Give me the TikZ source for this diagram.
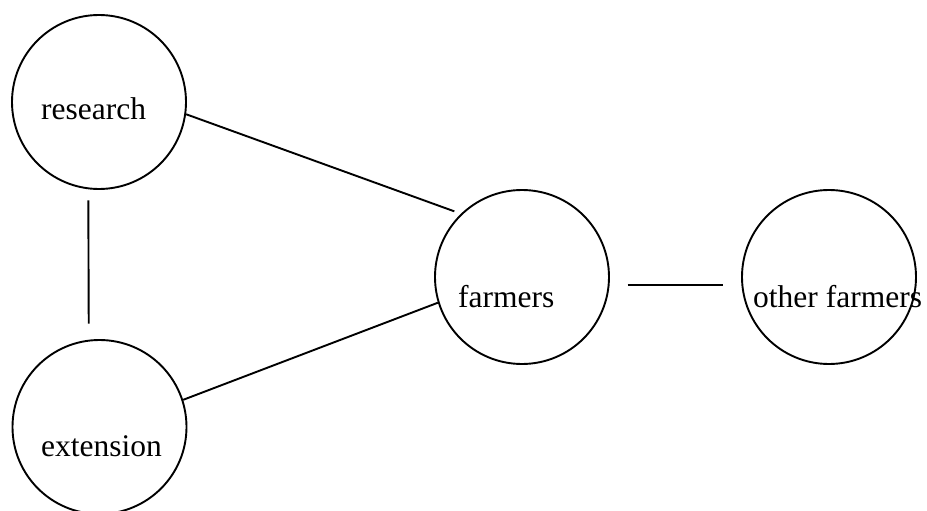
\documentclass[tikz,border=0pt]{standalone}
\usepackage{fontspec}
\setmainfont{Liberation Serif}
\tikzset{
  circ/.style={draw=black, circle, line width=1.9pt, minimum size=174pt, inner sep=0pt},
  lbl/.style={font=\fontsize{31.5}{38}\selectfont, inner sep=0pt, anchor=base west},
  conn/.style={draw=black, line width=1.9pt}
}
\begin{document}
\begin{tikzpicture}[x=1pt,y=-1pt]
\useasboundingbox (0,0) rectangle (927,511);
\clip (0,0) rectangle (927,511);
\fill[white] (0,0) rectangle (927,511);
\node[circ] (research) at (99,102) {};
\node[circ] (extension) at (99.5,427) {};
\node[circ] (farmers) at (522,277) {};
\node[circ] (other) at (829,277) {};
\node[lbl] (researchtxt) at (41,119) {research};
\node[lbl] (extensiontxt) at (41,456) {extension};
\node[lbl] (farmerstxt) at (458,307) {farmers};
\node[lbl] (othertxt) at (753,307) {other farmers};
\draw[conn] (research.-8.5) -- ([shift={(-6.6,-2.4)}]farmers.134);
\draw[conn] (extension.18) -- (farmers.197);
\draw[conn, shorten <=11pt, shorten >=16pt] (research.-97) -- (extension.97);
\draw[conn, shorten <=18pt, shorten >=18pt] (farmers.-5) -- (other.185);
\end{tikzpicture}
\end{document}
